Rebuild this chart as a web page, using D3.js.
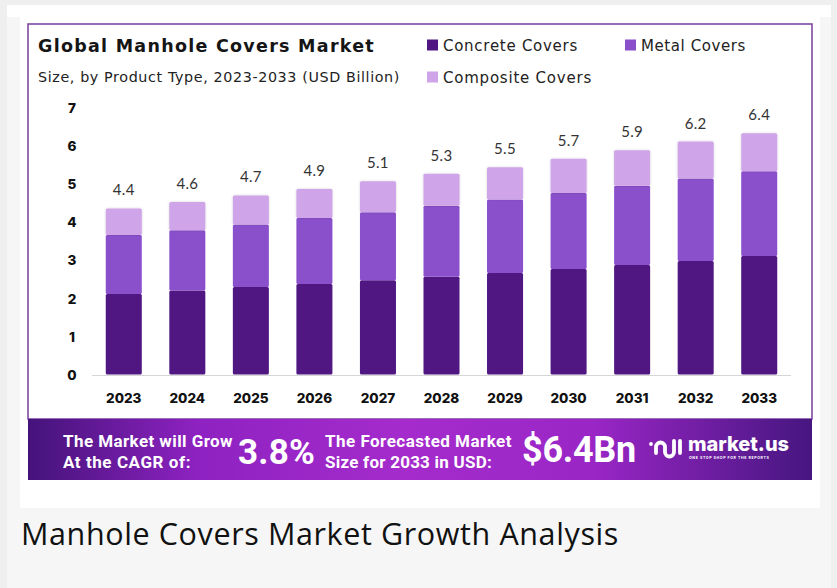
<!DOCTYPE html>
<html>
<head>
<meta charset="utf-8">
<script src="https://cdn.jsdelivr.net/npm/d3@7"></script>
<style>
  html, body { margin: 0; padding: 0; background: #f5f5f5; }
  svg { display: block; }
</style>
</head>
<body>
<svg id="chart" width="837" height="588"></svg>
<script>
// ---- data ----
const years = ["2023","2024","2025","2026","2027","2028","2029","2030","2031","2032","2033"];
const concrete  = [2.11, 2.20, 2.29, 2.37, 2.47, 2.56, 2.66, 2.76, 2.87, 2.97, 3.10];
const metal     = [1.54, 1.58, 1.64, 1.73, 1.78, 1.86, 1.92, 1.99, 2.07, 2.16, 2.22];
const composite = [0.70, 0.74, 0.76, 0.76, 0.81, 0.84, 0.85, 0.90, 0.93, 0.97, 1.00];
const totalLabels = ["4.4","4.6","4.7","4.9","5.1","5.3","5.5","5.7","5.9","6.2","6.4"];
const seriesNames = ["Concrete Covers", "Metal Covers", "Composite Covers"];
const yTicks = [0,1,2,3,4,5,6,7];
const colors = ["#501681", "#8a4fcb", "#cfa4e8"];

const svg = d3.select("#chart");

// fit a text element to a target width with letter-spacing
function fit(sel, target) {
  const n = sel.text().length;
  const w = sel.node().getComputedTextLength();
  sel.attr("letter-spacing", (target - w) / n);
  return sel;
}

// ---- page frame ----
svg.append("rect").attr("x",0).attr("y",0).attr("width",837).attr("height",588).attr("fill","#efefef");
svg.append("rect").attr("x",7).attr("y",5).attr("width",824).attr("height",583).attr("fill","#f6f6f6");
svg.append("rect").attr("x",7).attr("y",5).attr("width",824).attr("height",12).attr("fill","#ffffff");
svg.append("rect").attr("x",20).attr("y",8).attr("width",800).attr("height",500).attr("fill","#ffffff");

// ---- chart box ----
svg.append("rect").attr("x",28).attr("y",24).attr("width",784).attr("height",395)
  .attr("fill","#ffffff").attr("stroke","#7a3d9c").attr("stroke-width",1.5);

// title + subtitle
fit(svg.append("text").attr("x",38).attr("y",51.5)
  .attr("font-family","'DejaVu Sans', sans-serif").attr("font-weight",700).attr("font-size",17.5)
  .attr("fill","#151515").text("Global Manhole Covers Market"), 337);
fit(svg.append("text").attr("x",38).attr("y",82)
  .attr("font-family","'DejaVu Sans', sans-serif").attr("font-size",14.3)
  .attr("fill","#222").text("Size, by Product Type, 2023-2033 (USD Billion)"), 362);

// legend
const legendPos = [[427,45],[625,45],[427,77]];
const legendW = [135, 105, 149];
seriesNames.forEach((n,i)=>{
  const g = svg.append("g").attr("transform",`translate(${legendPos[i][0]},${legendPos[i][1]})`);
  g.append("rect").attr("x",0).attr("y",-5.5).attr("width",11).attr("height",11).attr("fill",colors[i]);
  fit(g.append("text").attr("x",16).attr("y",5.5)
    .attr("font-family","'DejaVu Sans', sans-serif").attr("font-size",15)
    .attr("fill","#222").text(n), legendW[i]);
});

// ---- scales ----
const x = d3.scaleBand().domain(years).range([92, 791]).paddingInner(0.433).paddingOuter(0.2165);
const y = d3.scaleLinear().domain([0,7]).range([374.5, 107.2]);

// stacked data
const table = years.map((yr,i)=>({year:yr, c:concrete[i], m:metal[i], p:composite[i]}));
const stack = d3.stack().keys(["c","m","p"]);
const stacked = stack(table);

const defs = svg.append("defs");
const f = defs.append("filter").attr("id","sh").attr("x","-20%").attr("y","-20%").attr("width","140%").attr("height","140%");
f.append("feDropShadow").attr("dx",0).attr("dy",0).attr("stdDeviation",1.2).attr("flood-color","#000").attr("flood-opacity",0.18);

// axis line
svg.append("line").attr("x1",92).attr("x2",791).attr("y1",y(0)+1).attr("y2",y(0)+1)
  .attr("stroke","#d6d6d6").attr("stroke-width",1);

// bars
const barG = svg.append("g");
stacked.forEach((s,si)=>{
  barG.selectAll(null).data(s).enter().append("rect")
    .attr("x", d=>x(d.data.year))
    .attr("width", x.bandwidth())
    .attr("y", d=>y(d[1]))
    .attr("height", d=>y(d[0])-y(d[1]))
    .attr("fill", colors[si])
    .attr("rx", 1.5)
    .attr("filter", si===2 ? "url(#sh)" : null);
});

// total labels
svg.append("g").selectAll("text").data(table).enter().append("text")
  .attr("x", d=>x(d.year)+x.bandwidth()/2)
  .attr("y", d=>y(d.c+d.m+d.p)-13)
  .attr("text-anchor","middle")
  .attr("font-family","Lato, 'Noto Sans', sans-serif").attr("font-size",15)
  .attr("letter-spacing",0.3)
  .attr("fill","#333").text((d,i)=>totalLabels[i]);

// y axis (tick labels only)
const yAxis = d3.axisLeft(y).tickValues(yTicks).tickSize(0).tickPadding(0).tickFormat(d3.format("d"));
const ya = svg.append("g").attr("transform","translate(76,0)").call(yAxis);
ya.select(".domain").remove();
ya.selectAll("text").attr("text-anchor","middle").attr("x",-4).attr("dy","0.36em")
  .attr("font-family","Inter, sans-serif").attr("font-weight",800).attr("font-size",13.5).attr("fill","#111");

// x axis (labels)
const xAxis = d3.axisBottom(x).tickSize(0).tickPadding(0);
const xa = svg.append("g").attr("transform",`translate(0,${y(0)})`).call(xAxis);
xa.select(".domain").remove();
xa.selectAll("text").attr("y",23.5).attr("dy","0.36em")
  .attr("font-family","Inter, sans-serif").attr("font-weight",800).attr("font-size",13.5).attr("fill","#111");

// ---- banner ----
const grad = defs.append("linearGradient").attr("id","bg").attr("x1","0").attr("x2","1").attr("y1","0").attr("y2","0");
[["0%","#44137a"],["22%","#8f22c2"],["48%","#a52bcc"],["72%","#9a26c6"],["100%","#461680"]].forEach(s=>{
  grad.append("stop").attr("offset",s[0]).attr("stop-color",s[1]);
});
svg.append("rect").attr("x",28).attr("y",419).attr("width",784).attr("height",61).attr("fill","url(#bg)");

const bf = "Roboto, Inter, sans-serif";
const bt = svg.append("g").attr("fill","#ffffff").attr("font-family",bf).attr("font-weight",700);
fit(bt.append("text").attr("x",63).attr("y",447).attr("font-size",17).text("The Market will Grow"), 170);
fit(bt.append("text").attr("x",63).attr("y",468).attr("font-size",17).text("At the CAGR of:"), 128);
fit(bt.append("text").attr("x",238).attr("y",464).attr("font-size",35).text("3.8%"), 77);
fit(bt.append("text").attr("x",325).attr("y",447).attr("font-size",17).text("The Forecasted Market"), 187);
fit(bt.append("text").attr("x",325).attr("y",468).attr("font-size",17).text("Size for 2033 in USD:"), 167);
fit(bt.append("text").attr("x",522).attr("y",462).attr("font-size",36).text("$6.4Bn"), 114);

// logo
const lg = svg.append("g").attr("fill","none").attr("stroke","#fff").attr("stroke-width",3.8).attr("stroke-linecap","round");
lg.append("circle").attr("cx",651).attr("cy",444).attr("r",1.9).attr("fill","#fff").attr("stroke","none");
lg.append("path").attr("d","M656,453 L656,447 A4.5,4.5 0 0 1 665,447 L665,452 A4.5,4.5 0 0 0 674,452 L674,441");
lg.append("line").attr("x1",680).attr("x2",680).attr("y1",441).attr("y2",453);
fit(svg.append("text").attr("x",688).attr("y",451).attr("fill","#fff").attr("font-family","Inter, sans-serif")
  .attr("font-weight",800).attr("font-size",20).text("market.us"), 101);
svg.append("text").attr("x",689).attr("y",459).attr("fill","#fff").attr("font-family","Inter, sans-serif")
  .attr("font-weight",700).attr("font-size",3.6).attr("letter-spacing",0.6).text("ONE STOP SHOP FOR THE REPORTS");

// ---- caption ----
fit(svg.append("text").attr("x",21).attr("y",545).attr("font-family","'Open Sans', sans-serif")
  .attr("font-size",30.5).attr("fill","#111").text("Manhole Covers Market Growth Analysis"), 598);
</script>
</body>
</html>
